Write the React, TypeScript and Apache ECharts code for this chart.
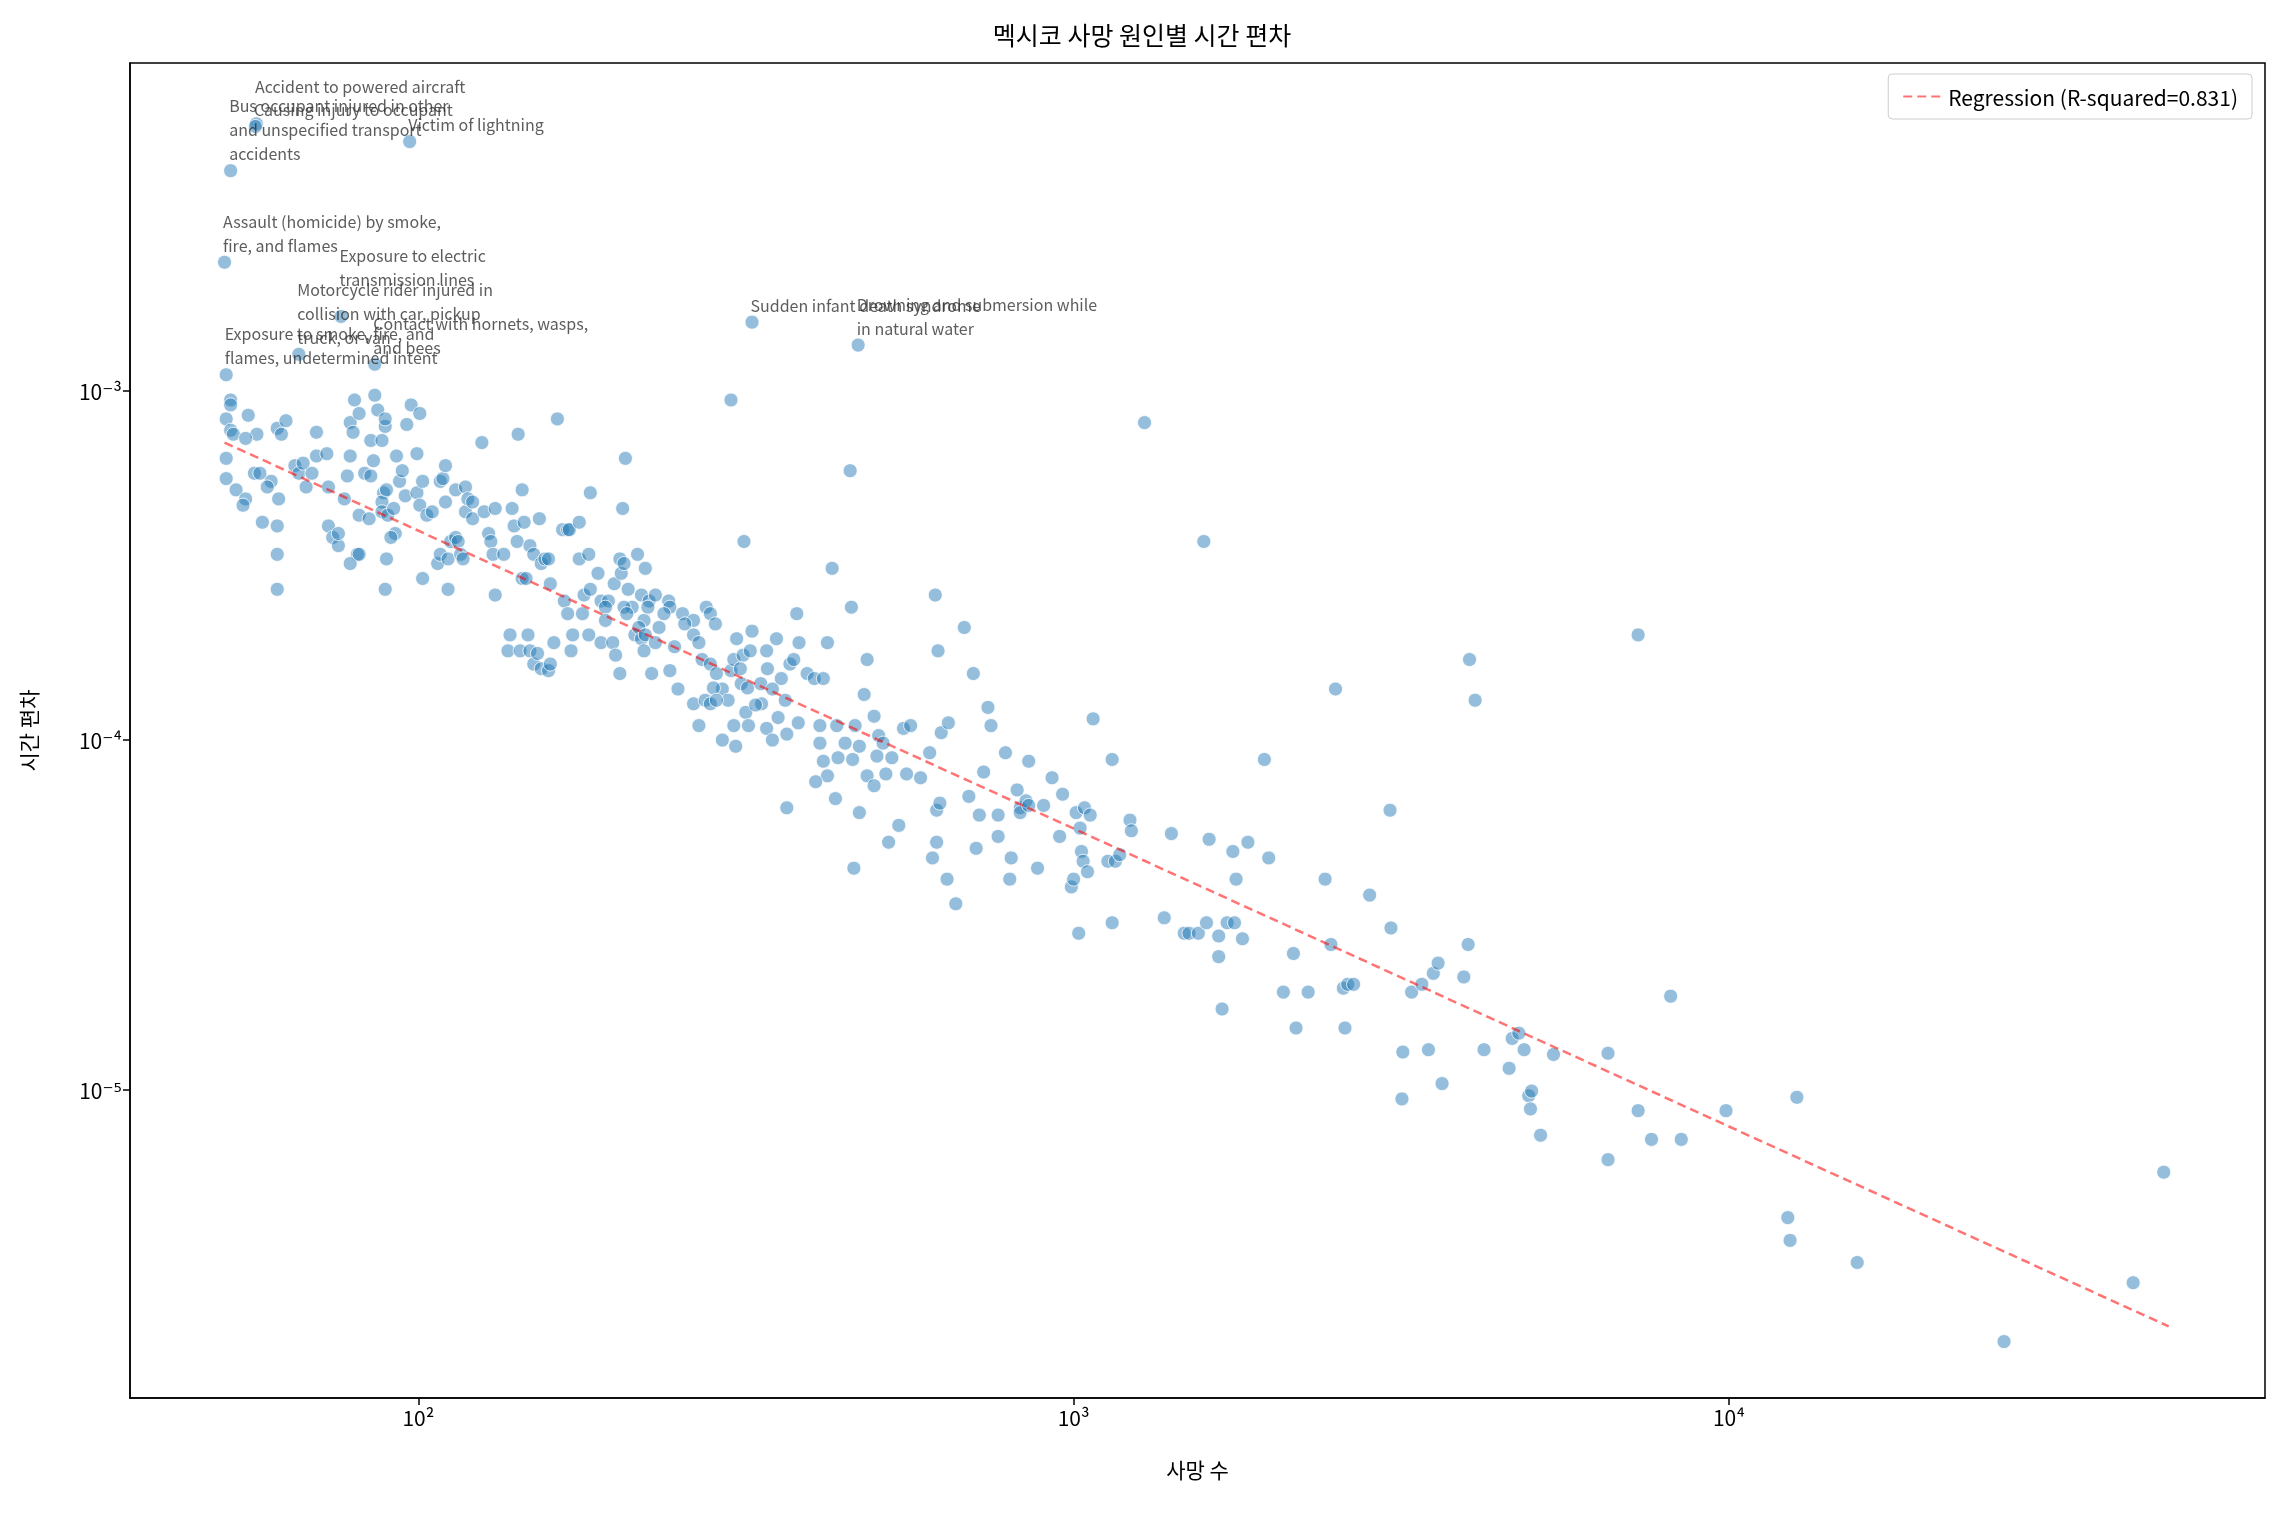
import React, { useEffect, useRef } from 'react';
import * as echarts from 'echarts';

// [deaths, time deviation]
const scatterPoints: [number, number][] = [
  [51.7, 9.4e-4], [51.7, 9.1e-4], [50.9, 8.3e-4], [51.7, 7.7e-4], [55, 8.5e-4], [56.7, 7.5e-4], [52.2, 7.5e-4],
  [54.5, 7.3e-4], [60.9, 7.8e-4], [61.8, 7.5e-4], [62.8, 8.2e-4], [50.9, 6.4e-4], [50.9, 5.6e-4], [52.7, 5.2e-4],
  [54.5, 4.9e-4], [54, 4.7e-4], [56.2, 5.8e-4], [57.3, 5.8e-4], [59.6, 5.5e-4], [58.8, 5.3e-4], [61.2, 4.9e-4],
  [60.9, 4.1e-4], [57.8, 4.2e-4], [60.9, 3.4e-4], [60.9, 2.7e-4], [64.8, 6.1e-4], [65.7, 5.8e-4], [66.7, 6.2e-4],
  [67.4, 5.3e-4], [68.8, 5.8e-4], [69.9, 7.6e-4], [69.9, 6.5e-4], [72.5, 6.6e-4], [72.9, 5.3e-4], [72.9, 4.1e-4],
  [74, 3.8e-4], [75.5, 3.6e-4], [75.5, 3.9e-4], [77.1, 4.9e-4], [77.9, 5.7e-4], [78.7, 6.5e-4], [78.7, 8.1e-4],
  [79.5, 7.6e-4], [79.9, 9.4e-4], [81.2, 8.6e-4], [82.8, 5.8e-4], [81.2, 4.4e-4], [80.7, 3.4e-4], [78.7, 3.2e-4],
  [81.2, 3.4e-4], [84.1, 4.3e-4], [84.6, 5.7e-4], [85.4, 6.3e-4], [84.6, 7.2e-4], [85.8, 9.7e-4], [86.7, 8.8e-4],
  [88, 7.2e-4], [89, 7.9e-4], [89, 8.3e-4], [88.5, 5.1e-4], [88, 4.8e-4], [88, 4.5e-4], [89.4, 5.2e-4],
  [89.8, 4.4e-4], [91.7, 4.6e-4], [92.2, 3.9e-4], [90.8, 3.8e-4], [89, 2.7e-4], [89.4, 3.3e-4], [92.6, 6.5e-4],
  [93.6, 5.5e-4], [94.5, 5.9e-4], [95.5, 5e-4], [96, 8e-4], [97.5, 9.1e-4], [99.5, 6.6e-4], [100.5, 8.6e-4],
  [99.5, 5.1e-4], [100.5, 4.7e-4], [101.5, 5.5e-4], [101.5, 2.9e-4], [103, 4.4e-4], [105, 4.5e-4], [107, 3.2e-4],
  [108, 5.5e-4], [108, 3.4e-4], [109, 5.6e-4], [110, 4.8e-4], [110, 6.1e-4], [111, 3.3e-4], [111, 2.7e-4],
  [112, 3.7e-4], [114, 3.8e-4], [114, 5.2e-4], [115, 3.7e-4], [116, 3.4e-4], [117, 3.3e-4], [118, 5.3e-4],
  [118, 4.5e-4], [119, 4.9e-4], [121, 4.8e-4], [121, 4.3e-4], [125, 7.1e-4], [126, 4.5e-4], [128, 3.9e-4],
  [129, 3.7e-4], [130, 3.4e-4], [131, 4.6e-4], [131, 2.6e-4], [135, 3.4e-4], [139, 4.6e-4], [140, 4.1e-4],
  [141.5, 3.7e-4], [142, 7.5e-4], [144, 5.2e-4], [144, 2.9e-4], [145, 4.2e-4], [146, 2.9e-4], [148, 3.6e-4],
  [150, 3.4e-4], [153, 4.3e-4], [154, 3.2e-4], [156, 3.3e-4], [158, 3.3e-4], [159, 2.8e-4], [163, 8.3e-4],
  [166, 4e-4], [169, 4e-4], [170, 4e-4], [176, 4.2e-4], [176, 3.3e-4], [179, 2.6e-4], [183, 5.1e-4],
  [182, 3.4e-4], [183, 2.7e-4], [188, 3e-4], [190, 2.5e-4], [195, 2.5e-4], [193, 2.4e-4], [199, 2.8e-4],
  [203, 3.3e-4], [204, 3e-4], [205, 4.6e-4], [206, 3.2e-4], [207, 6.4e-4], [209, 2.7e-4], [212, 2.4e-4],
  [216, 3.4e-4], [219, 2.6e-4], [221, 2.2e-4], [222, 3.1e-4], [225, 2.5e-4], [230, 2.6e-4], [241, 2.5e-4],
  [242, 2.4e-4], [253, 2.3e-4], [263, 2.2e-4],
  [138, 2e-4], [137, 1.8e-4], [143, 1.8e-4], [147, 2e-4], [148, 1.8e-4], [150, 1.65e-4], [152, 1.77e-4],
  [154, 1.6e-4], [158, 1.58e-4], [159, 1.65e-4], [161, 1.9e-4], [167, 2.5e-4], [169, 2.3e-4], [172, 2e-4],
  [171, 1.8e-4], [178, 2.3e-4], [182, 2e-4], [190, 1.9e-4], [193, 2.2e-4], [198, 1.9e-4], [200, 1.75e-4],
  [203, 1.55e-4], [206, 2.4e-4], [208, 2.3e-4], [214, 2e-4], [217, 2.1e-4], [219, 1.95e-4], [221, 1.8e-4],
  [222, 2e-4], [224, 2.4e-4], [227, 1.55e-4], [230, 1.9e-4], [233, 2.1e-4], [237, 2.3e-4], [242, 1.58e-4],
  [246, 1.85e-4], [249, 1.4e-4], [255, 2.15e-4], [263, 2e-4], [268, 1.9e-4], [271, 1.7e-4], [275, 2.4e-4],
  [279, 2.3e-4], [279, 1.65e-4], [284, 2.15e-4], [285, 1.55e-4], [291, 1.4e-4], [297, 1.3e-4], [300, 1.58e-4],
  [303, 1.7e-4], [306, 1.95e-4], [313, 1.75e-4], [321, 1.8e-4], [310, 1.6e-4], [311, 1.45e-4], [318, 1.41e-4],
  [323, 2.05e-4], [333, 1.45e-4], [334, 1.27e-4], [340, 1.8e-4], [341, 1.6e-4], [347, 1.4e-4], [352, 1.95e-4],
  [358, 1.5e-4], [363, 1.3e-4], [369, 1.65e-4], [374, 1.7e-4], [378, 2.3e-4], [381, 1.9e-4], [392, 1.55e-4],
  [402, 1.5e-4], [415, 1.5e-4], [421, 1.9e-4], [428, 3.1e-4], [435, 1.1e-4], [263, 1.27e-4], [268, 1.1e-4],
  [274, 1.3e-4], [279, 1.27e-4], [282, 1.41e-4], [285, 1.3e-4], [291, 1e-4], [303, 1.1e-4], [305, 9.6e-5],
  [316, 1.2e-4], [319, 1.1e-4], [327, 1.26e-4], [340, 1.08e-4], [347, 1e-4], [354, 1.16e-4], [365, 1.04e-4],
  [380, 1.12e-4], [410, 1.1e-4], [421, 7.9e-5], [415, 8.7e-5], [410, 9.8e-5], [437, 8.9e-5], [448, 9.8e-5],
  [464, 1.1e-4], [479, 1.35e-4], [484, 1.7e-4], [458, 2.4e-4], [456, 5.9e-4], [300, 9.4e-4], [314, 3.7e-4],
  [365, 6.4e-5], [404, 7.6e-5], [433, 6.8e-5], [460, 8.8e-5], [471, 9.6e-5], [504, 1.03e-4], [496, 1.17e-4],
  [512, 9.8e-5], [462, 4.3e-5], [471, 6.2e-5], [484, 7.9e-5], [496, 7.4e-5], [501, 9e-5], [517, 8e-5],
  [528, 8.9e-5], [522, 5.1e-5], [541, 5.7e-5], [550, 1.08e-4], [564, 1.1e-4], [556, 8e-5], [584, 7.8e-5],
  [603, 9.2e-5], [615, 2.6e-4], [621, 1.8e-4], [628, 1.05e-4], [618, 6.3e-5], [609, 4.6e-5], [618, 5.1e-5],
  [625, 6.6e-5], [644, 1.12e-4], [641, 4e-5], [661, 3.4e-5], [681, 2.1e-4], [692, 6.9e-5], [703, 1.55e-4],
  [710, 4.9e-5], [718, 6.1e-5], [729, 8.1e-5], [740, 1.24e-4], [748, 1.1e-4], [767, 6.1e-5], [767, 5.3e-5],
  [787, 9.2e-5], [799, 4e-5], [803, 4.6e-5], [820, 7.2e-5], [829, 6.4e-5], [829, 6.2e-5], [846, 6.7e-5],
  [854, 8.7e-5], [854, 6.5e-5], [881, 4.3e-5], [900, 6.5e-5], [927, 7.8e-5], [952, 5.3e-5], [962, 7e-5],
  [992, 3.8e-5], [1000, 4e-5], [1009, 6.2e-5], [1023, 5.6e-5], [1018, 2.8e-5], [1028, 4.8e-5], [1034, 4.5e-5],
  [1050, 4.2e-5], [1039, 6.4e-5], [1060, 6.1e-5], [1071, 1.15e-4], [1128, 4.5e-5], [1145, 8.8e-5], [1145, 3e-5],
  [1158, 4.5e-5], [1176, 4.7e-5], [1219, 5.9e-5], [1225, 5.5e-5], [1283, 8.1e-4], [1375, 3.1e-5], [1410, 5.4e-5],
  [1475, 2.8e-5], [1500, 2.8e-5], [1550, 2.8e-5], [1580, 3.7e-4], [1595, 3e-5], [1610, 5.2e-5], [1665, 2.75e-5],
  [1665, 2.4e-5], [1685, 1.7e-5], [1715, 3e-5], [1750, 4.8e-5], [1760, 3e-5], [1770, 4e-5], [1810, 2.7e-5],
  [1845, 5.1e-5], [1955, 8.8e-5], [1985, 4.6e-5], [2090, 1.9e-5], [2165, 2.45e-5], [2185, 1.5e-5], [2280, 1.9e-5],
  [2420, 4e-5], [2510, 1.4e-4], [2470, 2.6e-5], [2580, 1.95e-5], [2595, 1.5e-5], [2620, 2e-5], [2675, 2e-5],
  [2830, 3.6e-5], [3040, 6.3e-5], [3050, 2.9e-5], [3170, 9.4e-6], [3180, 1.28e-5], [3280, 1.9e-5], [3400, 2e-5],
  [3480, 1.3e-5], [3540, 2.15e-5], [3600, 2.3e-5], [3650, 1.04e-5], [3940, 2.1e-5], [4000, 2.6e-5], [4020, 1.7e-4],
  [4100, 1.3e-4], [4230, 1.3e-5], [4620, 1.15e-5], [4670, 1.4e-5], [4780, 1.45e-5], [4870, 1.3e-5], [4950, 9.6e-6],
  [4980, 8.8e-6], [5000, 9.9e-6], [5160, 7.4e-6], [5400, 1.26e-5], [6540, 6.3e-6], [6540, 1.27e-5], [7270, 8.7e-6],
  [7270, 2e-4], [7620, 7.2e-6], [8150, 1.85e-5], [8460, 7.2e-6], [9900, 8.7e-6], [12300, 4.3e-6], [12400, 3.7e-6],
  [12700, 9.5e-6], [15700, 3.2e-6], [26300, 1.9e-6], [41400, 2.8e-6], [46100, 5.8e-6],
];

const annotatedNames = [
  'Accident to powered aircraft',
  'Causing injury to occupant',
  'Bus occupant injured in other\nand unspecified transport\naccidents',
  'Victim of lightning',
  'Assault (homicide) by smoke,\nfire, and flames',
  'Exposure to electric\ntransmission lines',
  'Motorcycle rider injured in\ncollision with car, pickup\ntruck, or van',
  'Contact with hornets, wasps,\nand bees',
  'Exposure to smoke, fire, and\nflames, undetermined intent',
  'Sudden infant death syndrome',
  'Drowning and submersion while\nin natural water',
];
const annotatedDeaths = [56.6, 56.4, 51.7, 97, 50.6, 76.2, 65.7, 85.8, 50.9, 323, 469];
const annotatedDeviation = [5.8e-3, 5.7e-3, 4.26e-3, 5.16e-3, 2.33e-3, 1.63e-3, 1.27e-3, 1.19e-3, 1.11e-3, 1.57e-3, 1.35e-3];
// label offsets so the texts sit as in the reference (aircraft label is above its point)
const annotatedLift = [24, 4, 4, 4, 4, 24, 4, 4, 4, 4, 4];

const regressionLine: [number, number][] = [
  [50.6, 7.1e-4],
  [46900, 2.1e-6],
];
const rSquared = 0.831;

const sup: Record<string, string> = { '-': '⁻', '0': '⁰', '1': '¹', '2': '²', '3': '³', '4': '⁴', '5': '⁵', '6': '⁶' };
const powLabel = (v: number) => {
  const e = String(Math.round(Math.log10(v)));
  return '10' + e.split('').map((c) => sup[c] ?? c).join('');
};

const App: React.FC = () => {
  const ref = useRef<HTMLDivElement>(null);
  useEffect(() => {
    const chart = echarts.init(ref.current as HTMLDivElement, undefined, { renderer: 'svg' });
    const font = "'Noto Sans CJK KR', 'DejaVu Sans', sans-serif";
    const annotated = annotatedNames.map((name, i) => ({
      name,
      value: [annotatedDeaths[i], annotatedDeviation[i]],
      label: {
        show: true,
        formatter: name,
        position: [6, 6 - annotatedLift[i]],
        align: 'left',
        verticalAlign: 'bottom',
        fontSize: 16,
        lineHeight: 24,
        color: '#333',
        fontFamily: font,
      },
    }));
    const axisCommon = {
      type: 'log' as const,
      logBase: 10,
      axisLine: { show: true, lineStyle: { color: '#000', width: 1.5 } },
      axisTick: { show: true, inside: false, length: 7, lineStyle: { color: '#000', width: 1.5 } },
      splitLine: { show: false },
      axisLabel: {
        color: '#000',
        fontSize: 21,
        fontFamily: font,
        formatter: powLabel,
        showMinLabel: false,
        showMaxLabel: false,
      },
      nameLocation: 'middle' as const,
      nameTextStyle: { color: '#000', fontSize: 21, fontFamily: font },
    };
    chart.setOption({
      animation: false,
      textStyle: { fontFamily: font },
      title: {
        text: '멕시코 사망 원인별 시간 편차',
        left: 'center',
        top: 16,
        textStyle: { fontSize: 25, fontWeight: 'normal', color: '#000', fontFamily: font },
      },
      legend: {
        right: 32,
        top: 74,
        data: [`Regression (R-squared=${rSquared})`],
        borderColor: '#ccc',
        borderWidth: 1,
        borderRadius: 4,
        padding: [12, 14],
        itemWidth: 40,
        itemStyle: { opacity: 0 },
        textStyle: { fontSize: 21, color: '#000', fontFamily: font },
      },
      grid: {
        left: 130,
        right: 19,
        top: 63,
        bottom: 117,
        show: true,
        borderColor: '#000',
        borderWidth: 1.5,
        containLabel: false,
      },
      xAxis: { ...axisCommon, min: 36.3, max: 65800, name: '사망 수', nameGap: 60 },
      yAxis: { ...axisCommon, min: 1.31e-6, max: 8.66e-3, name: '시간 편차', nameGap: 92 },
      series: [
        {
          type: 'scatter',
          symbolSize: 14,
          itemStyle: { color: 'rgba(31,119,180,0.6)', borderColor: '#fff', borderWidth: 1 },
          data: [...scatterPoints, ...annotated],
          z: 2,
        },
        {
          name: `Regression (R-squared=${rSquared})`,
          type: 'line',
          symbol: 'none',
          data: regressionLine,
          lineStyle: { color: 'rgba(255,0,0,0.55)', width: 2.5, type: [9, 5] },
          itemStyle: { color: 'rgba(255,0,0,0.55)' },
          z: 3,
        },
      ],
    });
    return () => {
      chart.dispose();
    };
  }, []);
  return <div ref={ref} style={{ position: 'fixed', left: 0, top: 0, width: '100vw', height: '100vh' }} />;
};

export default App;
